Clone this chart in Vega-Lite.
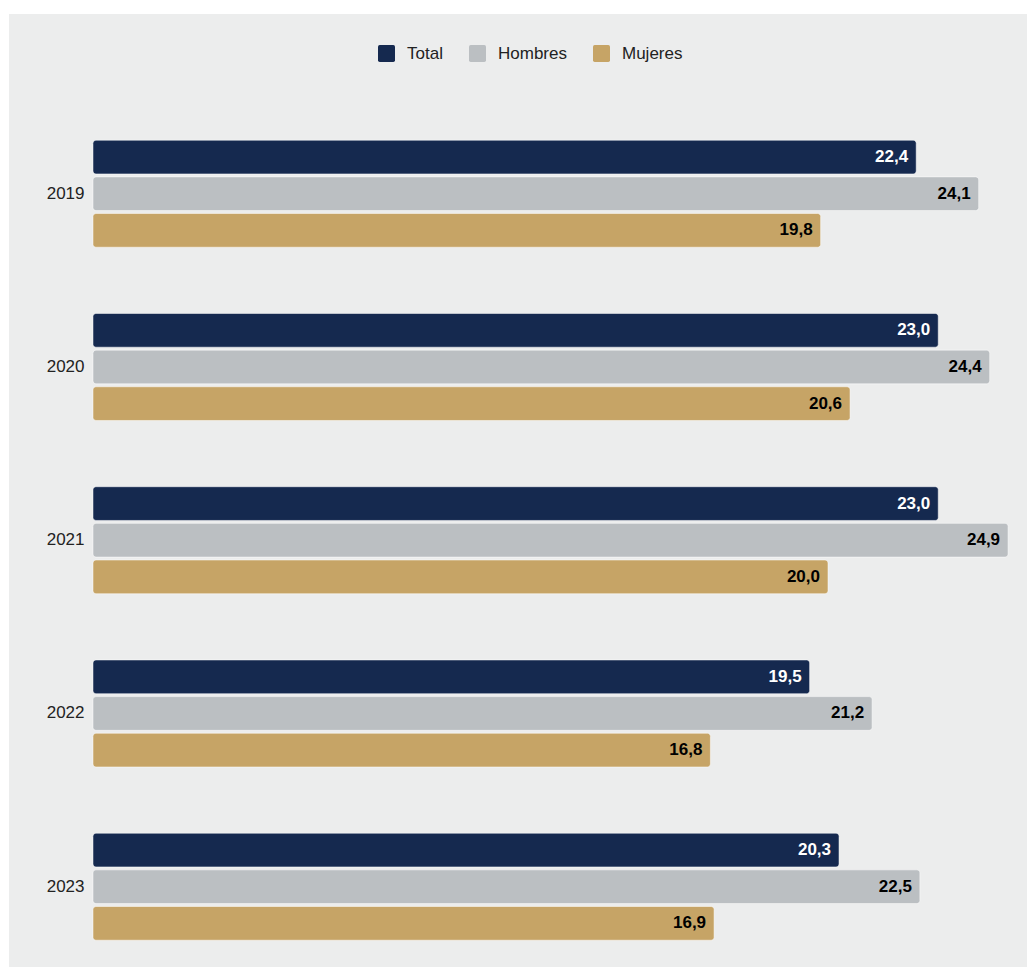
{
  "$schema": "https://vega.github.io/schema/vega-lite/v6.json",
  "width": 1018,
  "height": 953,
  "autosize": {"type": "none"},
  "padding": {"left": 9, "top": 14, "right": 0, "bottom": 0},
  "background": "#ffffff",
  "data": {
    "values": [
      {"anio": "2019", "serie": "Total", "valor": 22.4},
      {"anio": "2019", "serie": "Hombres", "valor": 24.1},
      {"anio": "2019", "serie": "Mujeres", "valor": 19.8},
      {"anio": "2020", "serie": "Total", "valor": 23.0},
      {"anio": "2020", "serie": "Hombres", "valor": 24.4},
      {"anio": "2020", "serie": "Mujeres", "valor": 20.6},
      {"anio": "2021", "serie": "Total", "valor": 23.0},
      {"anio": "2021", "serie": "Hombres", "valor": 24.9},
      {"anio": "2021", "serie": "Mujeres", "valor": 20.0},
      {"anio": "2022", "serie": "Total", "valor": 19.5},
      {"anio": "2022", "serie": "Hombres", "valor": 21.2},
      {"anio": "2022", "serie": "Mujeres", "valor": 16.8},
      {"anio": "2023", "serie": "Total", "valor": 20.3},
      {"anio": "2023", "serie": "Hombres", "valor": 22.5},
      {"anio": "2023", "serie": "Mujeres", "valor": 16.9}
    ]
  },
  "encoding": {
    "y": {
      "field": "anio",
      "type": "nominal",
      "sort": ["2019", "2020", "2021", "2022", "2023"],
      "scale": {"paddingInner": 0.3824, "paddingOuter": 0.4416, "align": 0.825},
      "axis": {
        "title": null,
        "domain": false,
        "ticks": false,
        "grid": false,
        "offset": -84,
        "labelPadding": 9,
        "labelFont": "Liberation Sans",
        "labelFontSize": 17,
        "labelColor": "#222222"
      }
    },
    "yOffset": {
      "field": "serie",
      "type": "nominal",
      "sort": ["Total", "Hombres", "Mujeres"],
      "scale": {"paddingInner": 0.08, "paddingOuter": 0}
    },
    "x": {
      "field": "valor",
      "type": "quantitative",
      "scale": {"domain": [-2.2857, 25.415], "nice": false, "zero": false},
      "axis": null
    }
  },
  "layer": [
    {
      "mark": {
        "type": "bar",
        "cornerRadiusEnd": 3,
        "stroke": "#ffffff",
        "strokeWidth": 1,
        "strokeOpacity": 0.5
      },
      "encoding": {
        "x2": {"datum": 0},
        "color": {
          "field": "serie",
          "type": "nominal",
          "sort": ["Total", "Hombres", "Mujeres"],
          "scale": {
            "domain": ["Total", "Hombres", "Mujeres"],
            "range": ["#15294f", "#bbbfc2", "#c6a466"]
          },
          "legend": {
            "title": null,
            "orient": "none",
            "direction": "horizontal",
            "legendX": 369,
            "legendY": 31,
            "symbolType": "M -0.8 -1 L 0.8 -1 Q 1 -1 1 -0.8 L 1 0.8 Q 1 1 0.8 1 L -0.8 1 Q -1 1 -1 0.8 L -1 -0.8 Q -1 -1 -0.8 -1 Z",
            "symbolSize": 289,
            "symbolStrokeWidth": 0,
            "symbolOpacity": 1,
            "labelFont": "Liberation Sans",
            "labelFontSize": 17,
            "labelColor": "#222222",
            "labelOffset": 12,
            "columnPadding": 26
          }
        }
      }
    },
    {
      "mark": {
        "type": "text",
        "align": "right",
        "baseline": "middle",
        "dx": -8,
        "font": "Liberation Sans",
        "fontSize": 17,
        "fontWeight": "bold"
      },
      "encoding": {
        "text": {"field": "valor", "type": "quantitative", "format": ".1f"},
        "color": {
          "condition": {"test": "datum.serie === 'Total'", "value": "#ffffff"},
          "value": "#000000"
        }
      }
    }
  ],
  "config": {
    "view": {"fill": "#eceded", "stroke": null},
    "locale": {
      "number": {"decimal": ",", "thousands": ".", "grouping": [3], "currency": ["", " €"]}
    }
  }
}
